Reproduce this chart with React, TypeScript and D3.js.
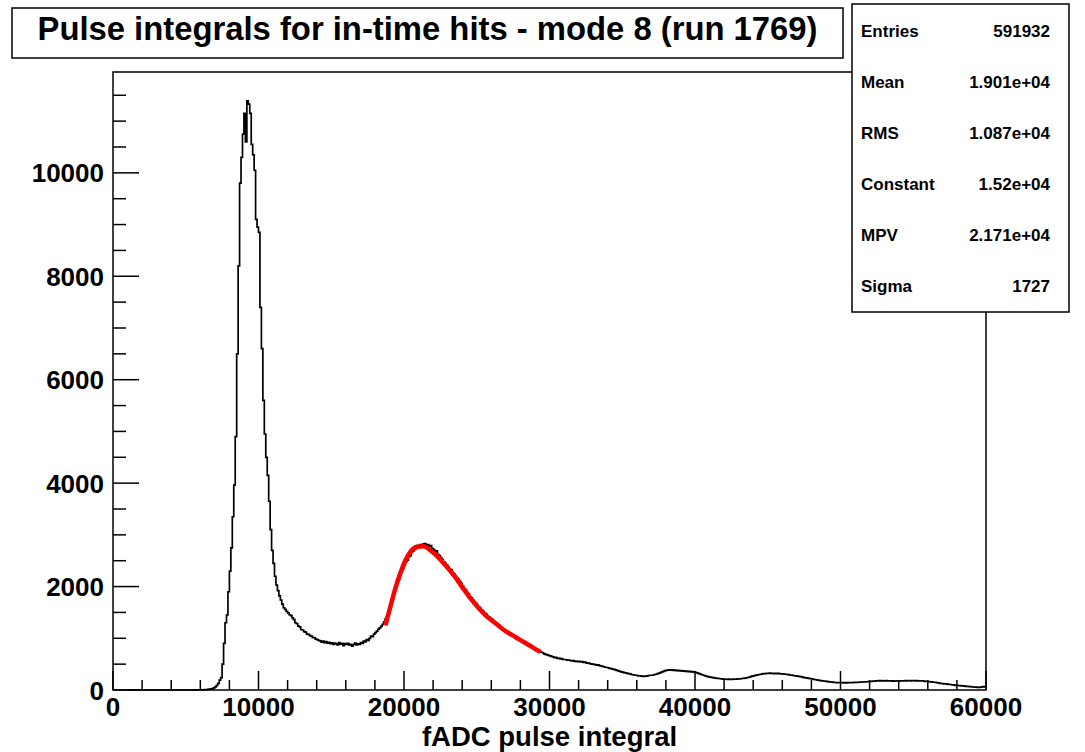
import React from 'react';
import * as d3 from 'd3';

const title = 'Pulse integrals for in-time hits - mode 8 (run 1769)';
const xTitle = 'fADC pulse integral';

// histogram: bins of 100 starting at 1000
const binStart = 1000;
const binWidth = 100;
const counts: number[] = [
  0, 0, 0, 0, 0, 0, 0, 0, 0, 0,
  0, 0, 0, 0, 0, 0, 0, 0, 0, 0,
  0, 0, 0, 0, 0, 0, 0, 0, 0, 0,
  0, 0, 0, 0, 0, 0, 0, 0, 0, 0,
  0, 0, 0, 0, 0, 1, 1, 2, 2, 3,
  3, 4, 5, 6, 8, 11, 15, 20, 28, 40,
  60, 90, 130, 190, 240, 500, 900, 1300, 1450, 1900,
  2300, 2750, 3350, 3960, 4900, 6500, 8200, 9800, 10300, 10750,
  11150, 10600, 11390, 11330, 11150, 10550, 10350, 10050, 9100, 8950,
  8850, 7400, 6600, 5600, 4950, 4500, 4150, 3650, 3100, 2700,
  2450, 2200, 2030, 1920, 1820, 1740, 1660, 1590, 1560, 1520,
  1490, 1455, 1440, 1395, 1360, 1300, 1285, 1235, 1220, 1170,
  1160, 1130, 1120, 1080, 1075, 1050, 1040, 1010, 1015, 985,
  975, 960, 950, 925, 945, 915, 935, 905, 920, 895,
  910, 880, 905, 890, 870, 915, 885, 900, 860, 895,
  880, 900, 870, 885, 850, 880, 905, 870, 890, 880,
  915, 900, 945, 930, 975, 960, 1000, 1040, 1030, 1080,
  1110, 1140, 1175, 1200, 1230, 1270, 1320, 1370, 1420, 1500,
  1570, 1690, 1770, 1890, 1980, 2070, 2140, 2220, 2310, 2350,
  2420, 2480, 2510, 2580, 2600, 2670, 2690, 2720, 2740, 2790,
  2770, 2810, 2800, 2820, 2830, 2790, 2810, 2780, 2790, 2740,
  2720, 2680, 2690, 2620, 2600, 2560, 2520, 2480, 2450, 2420,
  2380, 2340, 2330, 2270, 2240, 2210, 2170, 2140, 2100, 2060,
  2010, 1960, 1940, 1890, 1860, 1800, 1780, 1740, 1710, 1680,
  1640, 1610, 1580, 1550, 1520, 1490, 1470, 1430, 1410, 1390,
  1370, 1340, 1310, 1290, 1270, 1250, 1220, 1200, 1170, 1160,
  1140, 1120, 1100, 1070, 1060, 1040, 1020, 1000, 990, 970,
  960, 940, 920, 900, 890, 870, 860, 840, 820, 810,
  790, 780, 760, 740, 730, 720, 700, 690, 680, 670,
  660, 650, 640, 625, 630, 610, 615, 600, 605, 590,
  590, 585, 575, 580, 570, 565, 570, 555, 560, 550,
  555, 545, 550, 535, 540, 525, 520, 515, 505, 500,
  495, 490, 480, 485, 470, 465, 455, 450, 440, 435,
  430, 420, 415, 405, 400, 390, 380, 370, 360, 350,
  345, 335, 330, 320, 315, 310, 300, 295, 290, 285,
  280, 275, 275, 270, 265, 270, 268, 275, 280, 285,
  285, 290, 300, 305, 315, 325, 335, 350, 360, 375,
  380, 385, 390, 385, 390, 380, 385, 375, 380, 370,
  375, 365, 370, 360, 365, 355, 360, 350, 355, 345,
  340, 330, 320, 310, 300, 290, 280, 270, 262, 255,
  250, 245, 240, 235, 230, 225, 222, 218, 215, 212,
  210, 208, 205, 210, 205, 207, 210, 208, 212, 215,
  215, 218, 222, 225, 230, 235, 242, 250, 258, 268,
  275, 282, 288, 295, 300, 305, 310, 315, 318, 320,
  322, 325, 320, 324, 318, 322, 316, 320, 314, 312,
  312, 308, 305, 300, 296, 290, 286, 280, 276, 272,
  270, 264, 258, 252, 246, 240, 236, 230, 224, 220,
  214, 208, 202, 198, 192, 186, 182, 178, 174, 170,
  166, 162, 158, 155, 152, 148, 145, 143, 141, 140,
  140, 142, 138, 141, 139, 143, 140, 144, 142, 146,
  145, 148, 150, 152, 150, 155, 158, 156, 160, 162,
  165, 168, 170, 172, 175, 178, 180, 176, 180, 178,
  176, 180, 178, 174, 176, 172, 175, 171, 174, 176,
  172, 176, 178, 175, 180, 178, 182, 180, 178, 182,
  180, 178, 182, 176, 178, 174, 176, 170, 168, 165,
  162, 160, 156, 154, 150, 146, 140, 136, 130, 126,
  124, 120, 118, 114, 110, 106, 102, 98, 94, 90,
  88, 86, 84, 80, 78, 75, 72, 70, 66, 64,
  60, 58, 56, 54, 52, 50, 55, 60, 64, 62,
];

// fitted curve (red)
const fitX = [18720, 19060, 19410, 19750, 20100, 20440, 20900, 21360, 21820, 22280, 22850, 23420, 24000, 24570, 25140, 25720, 26290, 26860, 27440, 28010, 28580, 29160, 29390];
const fitY = [1250, 1610, 1970, 2260, 2510, 2670, 2770, 2780, 2700, 2590, 2410, 2220, 1990, 1770, 1580, 1415, 1290, 1160, 1060, 965, 870, 770, 740];

const statLabels = ['Entries', 'Mean', 'RMS', 'Constant', 'MPV', 'Sigma'];
const statValues = ['591932', '1.901e+04', '1.087e+04', '1.52e+04', '2.171e+04', '1727'];

const xMajor = [0, 10000, 20000, 30000, 40000, 50000, 60000];
const yMajor = [0, 2000, 4000, 6000, 8000, 10000];

const FONT = '"Liberation Sans", Arial, Helvetica, sans-serif';

export default function App() {
  const W = 1085, H = 752;
  const left = 113, right = 986, top = 72, bottom = 690;
  const x = d3.scaleLinear().domain([0, 60000]).range([left, right]);
  const y = d3.scaleLinear().domain([0, 11950]).range([bottom, top]);

  const pts: [number, number][] = counts.map((c, i) => [binStart + i * binWidth, c]);
  pts.push([binStart + counts.length * binWidth, counts[counts.length - 1]]);
  const histPath = d3.line<[number, number]>()
    .x(d => x(d[0])).y(d => y(d[1]))
    .curve(d3.curveStepAfter)(pts) || '';

  const fitPath = d3.line<number>()
    .x((_, i) => x(fitX[i])).y(d => y(d))
    .curve(d3.curveMonotoneX)(fitY) || '';

  const xMinor = d3.range(0, 60001, 2000).filter(v => v % 10000 !== 0);
  const yMinor = d3.range(0, 11951, 500).filter(v => v % 2000 !== 0);

  return (
    <svg width={W} height={H} style={{ position: 'absolute', left: 0, top: 0, background: '#fff' }}
      fontFamily={FONT} fontWeight="bold">
      <rect x={0} y={0} width={W} height={H} fill="#fff" />
      {/* frame */}
      <rect x={left} y={top} width={right - left} height={bottom - top} fill="none" stroke="#000" strokeWidth={1.5} />
      {/* x ticks */}
      {xMajor.map(v => <line key={'xm' + v} x1={x(v)} x2={x(v)} y1={bottom} y2={bottom - 19} stroke="#000" strokeWidth={1.5} />)}
      {xMinor.map(v => <line key={'xn' + v} x1={x(v)} x2={x(v)} y1={bottom} y2={bottom - 10} stroke="#000" strokeWidth={1.5} />)}
      {/* y ticks */}
      {yMajor.map(v => <line key={'ym' + v} x1={left} x2={left + 26} y1={y(v)} y2={y(v)} stroke="#000" strokeWidth={1.5} />)}
      {yMinor.map(v => <line key={'yn' + v} x1={left} x2={left + 13} y1={y(v)} y2={y(v)} stroke="#000" strokeWidth={1.5} />)}
      {/* histogram */}
      <path d={histPath} fill="none" stroke="#000" strokeWidth={1.7} />
      {/* fit */}
      <path d={fitPath} fill="none" stroke="#ff0000" strokeWidth={4.5} />
      {/* tick labels */}
      {xMajor.map(v => <text key={'xl' + v} x={x(v)} y={716} fontSize={26} textAnchor="middle">{v}</text>)}
      {yMajor.map(v => <text key={'yl' + v} x={104} y={y(v) + 9.5} fontSize={26} textAnchor="end">{v}</text>)}
      <text x={(left + right) / 2} y={746} fontSize={27.5} textAnchor="middle">{xTitle}</text>
      {/* title box */}
      <rect x={12} y={8} width={831} height={50} fill="#fff" stroke="#000" strokeWidth={1.5} />
      <text x={427.5} y={40} fontSize={32.8} textAnchor="middle">{title}</text>
      {/* stats box */}
      <rect x={852} y={4} width={217} height={308} fill="#fff" stroke="#000" strokeWidth={1.5} />
      {statLabels.map((s, i) => (
        <g key={s}>
          <text x={861} y={36.5 + i * 51} fontSize={17}>{s}</text>
          <text x={1050} y={36.5 + i * 51} fontSize={17} textAnchor="end">{statValues[i]}</text>
        </g>
      ))}
    </svg>
  );
}
